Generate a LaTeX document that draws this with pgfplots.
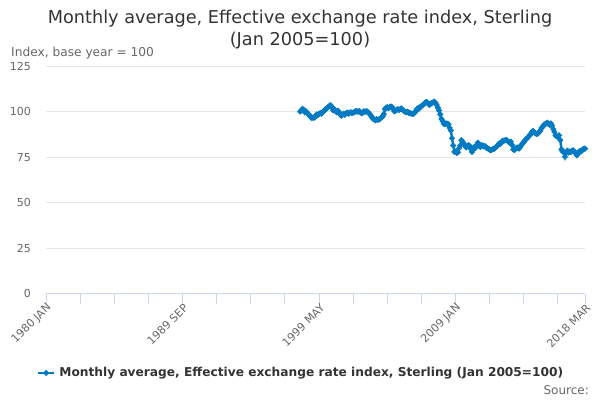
\documentclass[border=0pt]{standalone}
\usepackage{pgfplots}
\pgfplotsset{compat=1.18}
\usepackage{fontspec}
\setmainfont{DejaVu Sans}
\definecolor{lineblue}{RGB}{0,122,195}
\definecolor{titlegray}{RGB}{51,51,51}
\definecolor{labelgray}{RGB}{102,102,102}
\definecolor{gridgray}{RGB}{230,230,230}
\definecolor{axisblue}{RGB}{204,214,235}
\begin{document}
\begin{tikzpicture}
\path[use as bounding box] (0bp,0bp) rectangle (600bp,400bp);
\node[anchor=base, text=titlegray, font=\fontsize{17.7bp}{21bp}\selectfont, inner sep=0pt] at (300bp,376bp) {Monthly average, Effective exchange rate index, Sterling};
\node[anchor=base, text=titlegray, font=\fontsize{17.7bp}{21bp}\selectfont, inner sep=0pt] at (300bp,354bp) {(Jan 2005=100)};
\node[anchor=base west, text=labelgray, font=\fontsize{12.2bp}{14bp}\selectfont, inner sep=0pt] at (11bp,343bp) {Index, base year = 100};
\node[anchor=base east, text=labelgray, font=\fontsize{12bp}{14bp}\selectfont, inner sep=0pt] at (589bp,6bp) {Source:};
\begin{axis}[
  at={(46bp,106.5bp)}, anchor=south west,
  scale only axis, width=539bp, height=227bp,
  xmin=0, xmax=458, ymin=0, ymax=125,
  axis x line*=bottom, axis y line*=left,
  x axis line style={axisblue, line width=1bp},
  y axis line style={draw=none},
  ytick={0,25,...,125},
  ymajorgrids, major grid style={gridgray, line width=1bp},
  ytick style={draw=none},
  xtick={0,116,232,348,458},
  xticklabels={1980 JAN,1989 SEP,1999 MAY,2009 JAN,2018 MAR},
  minor xtick={29,58,87,145,174,203,261,290,319,377,406,435},
  tick align=outside, major tick length=10bp, minor tick length=10bp,
  xtick style={axisblue, line width=1bp},
  minor x tick style={axisblue, line width=1bp},
  /pgf/number format/assume math mode=true,
  tick label style={font=\fontsize{11bp}{13bp}\selectfont, text=labelgray},
  xticklabel style={rotate=45, anchor=east, inner sep=0pt, yshift=-4bp, xshift=1bp},
  yticklabel style={anchor=east, inner sep=0pt, xshift=-5bp},
  legend style={at={(axis description cs:-0.0167,-0.350)}, anchor=west, draw=none, fill=none,
    inner sep=0pt, outer sep=0pt, column sep=4bp, nodes={inner sep=0pt},
    font=\bfseries\fontsize{12.2bp}{14bp}\selectfont, text=titlegray},
  legend image code/.code={\draw[mark repeat=2,mark phase=2,#1] plot coordinates {(0bp,0bp) (8bp,0bp) (16bp,0bp)};},
]
\addplot[lineblue, line width=2.4bp, mark=*, mark size=1.5bp, mark options={solid}] coordinates {
(216,100.2) (217,100.8) (218,101.7) (219,101.2) (220,99.8) (221,100.3) (222,99.2) (223,98.9) (224,98.0) (225,97.0) (226,96.6) (227,96.9)
(228,96.8) (229,97.5) (230,98.6) (231,98.2) (232,98.9) (233,99.4) (234,99.0) (235,99.8) (236,100.4) (237,101.2) (238,101.6) (239,102.2)
(240,102.8) (241,103.4) (242,103.6) (243,102.4) (244,100.8) (245,101.5) (246,100.6) (247,99.8) (248,100.7) (249,99.9) (250,98.6) (251,97.8)
(252,98.5) (253,98.9) (254,98.4) (255,99.3) (256,99.6) (257,99.0) (258,99.5) (259,99.8) (260,99.3) (261,99.6) (262,99.9) (263,100.3)
(264,100.4) (265,100.1) (266,100.5) (267,99.9) (268,99.3) (269,99.5) (270,100.3) (271,100.0) (272,100.4) (273,100.2) (274,99.6) (275,98.8)
(276,98.0) (277,97.0) (278,96.2) (279,95.8) (280,95.4) (281,96.0) (282,95.6) (283,95.9) (284,96.3) (285,97.0) (286,97.4) (287,98.8)
(288,101.5) (289,102.3) (290,102.6) (291,102.0) (292,102.5) (293,103.0) (294,102.6) (295,101.6) (296,100.3) (297,100.8) (298,101.1) (299,101.5)
(300,101.0) (301,101.6) (302,101.9) (303,101.2) (304,100.6) (305,100.2) (306,99.8) (307,100.1) (308,99.6) (309,99.4) (310,99.2) (311,99.0)
(312,98.9) (313,99.4) (314,100.2) (315,101.4) (316,102.0) (317,101.8) (318,102.8) (319,103.2) (320,103.6) (321,104.2) (322,104.9) (323,105.5)
(324,105.3) (325,104.3) (326,103.9) (327,104.6) (328,105.0) (329,105.3) (330,105.6) (331,104.8) (332,103.8) (333,102.3) (334,100.8) (335,98.6)
(336,96.2) (337,95.0) (338,93.5) (339,93.2) (340,93.6) (341,93.4) (342,93.1) (343,91.2) (344,89.8) (345,85.5) (346,81.5) (347,78.0)
(348,78.2) (349,77.4) (350,77.8) (351,80.0) (352,81.5) (353,84.4) (354,83.6) (355,82.6) (356,81.4) (357,80.5) (358,81.2) (359,81.8)
(360,81.2) (361,79.6) (362,78.0) (363,79.5) (364,80.7) (365,80.2) (366,81.6) (367,83.0) (368,82.0) (369,80.7) (370,81.6) (371,81.5)
(372,81.0) (373,81.2) (374,80.4) (375,80.0) (376,79.6) (377,79.2) (378,78.9) (379,79.3) (380,79.6) (381,79.8) (382,80.4) (383,81.0)
(384,81.6) (385,82.6) (386,82.4) (387,83.1) (388,84.2) (389,84.0) (390,84.4) (391,84.6) (392,84.2) (393,83.5) (394,83.2) (395,83.6)
(396,81.8) (397,79.3) (398,79.0) (399,79.8) (400,80.2) (401,80.4) (402,79.8) (403,80.7) (404,81.8) (405,82.7) (406,83.4) (407,84.4)
(408,85.0) (409,85.7) (410,86.3) (411,87.2) (412,88.0) (413,89.1) (414,89.5) (415,88.6) (416,88.2) (417,87.8) (418,88.1) (419,88.9)
(420,89.6) (421,91.0) (422,91.8) (423,92.8) (424,93.3) (425,93.6) (426,94.1) (427,93.4) (428,92.8) (429,93.6) (430,92.4) (431,90.6)
(432,89.0) (433,87.0) (434,86.6) (435,86.2) (436,87.1) (437,84.5) (438,79.4) (439,78.2) (440,78.0) (441,75.3) (442,77.4) (443,78.6)
(444,77.6) (445,78.2) (446,77.9) (447,78.6) (448,78.9) (449,78.0) (450,77.4) (451,76.1) (452,77.0) (453,78.2) (454,78.4) (455,78.3)
(456,79.3) (457,79.6) (458,79.8)
};
\addlegendentry{Monthly average, Effective exchange rate index, Sterling (Jan 2005=100)}
\end{axis}
\end{tikzpicture}
\end{document}
